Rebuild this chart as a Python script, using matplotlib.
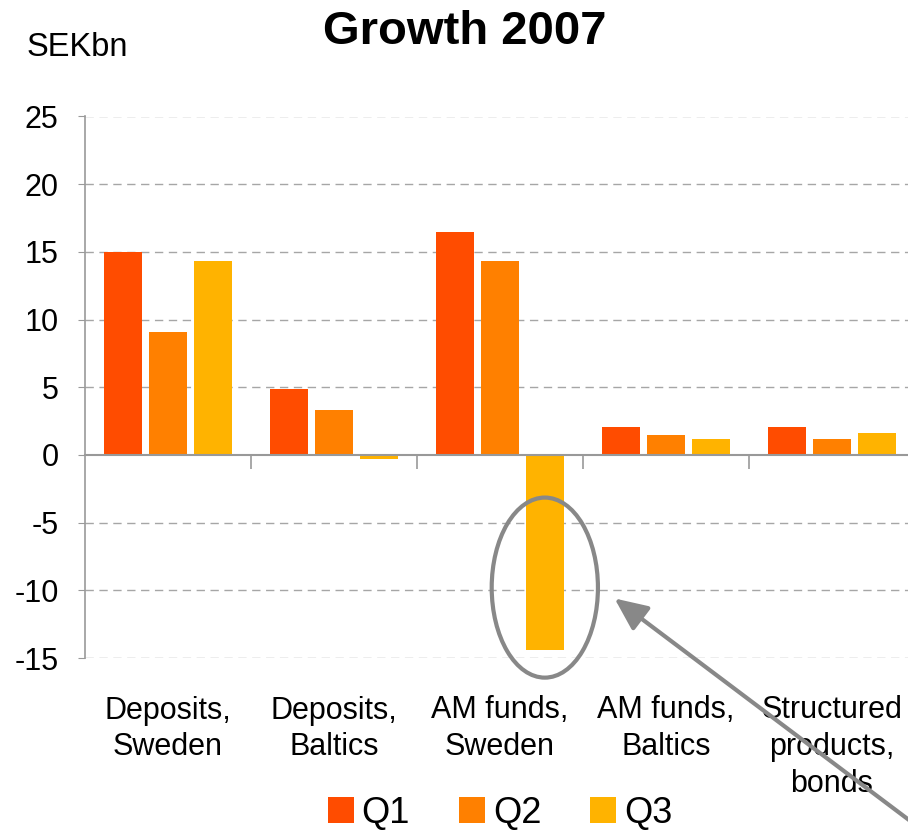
import matplotlib
matplotlib.use("Agg")
import matplotlib.pyplot as plt
from matplotlib.patches import Ellipse, Patch
import numpy as np

plt.rcParams['font.family'] = ['Liberation Sans', 'DejaVu Sans']

categories = ["Deposits,\nSweden", "Deposits,\nBaltics", "AM funds,\nSweden",
              "AM funds,\nBaltics", "Structured\nproducts,\nbonds"]
series = ["Q1", "Q2", "Q3"]
q1 = [15.0, 4.9, 16.5, 2.1, 2.1]
q2 = [9.1, 3.3, 14.3, 1.5, 1.2]
q3 = [14.3, -0.3, -14.4, 1.2, 1.6]
yticks = [25, 20, 15, 10, 5, 0, -5, -10, -15]
colors = ["#FF4C00", "#FF8000", "#FFB300"]

W, H = 908, 831
fig = plt.figure(figsize=(W / 100, H / 100), dpi=100)
ax = fig.add_axes([85 / W, (H - 658) / H, 830 / W, (658 - 116.5) / H])

x = np.arange(len(categories))
pitch = 0.27
width = 0.226
for k, (vals, c) in enumerate(zip([q1, q2, q3], colors)):
    ax.bar(x + (k - 1) * pitch, vals, width=width, color=c, zorder=3)

ax.set_xlim(-0.5, len(categories) - 0.5)
ax.set_ylim(-15, 25)

# gridlines
for v in yticks:
    if v != 0:
        ax.axhline(v, color="#A6A6A6", lw=1.0, ls=(0, (6, 4)), zorder=1)

for s in ["top", "right"]:
    ax.spines[s].set_visible(False)
ax.spines["left"].set_color("#999999")
ax.spines["left"].set_linewidth(1.2)
ax.spines["bottom"].set_position(("data", 0))
ax.spines["bottom"].set_color("#999999")
ax.spines["bottom"].set_linewidth(1.5)
ax.spines["bottom"].set_zorder(4)

ax.set_yticks(yticks)
ax.set_yticklabels([str(v) for v in yticks], fontsize=22)
ax.tick_params(axis="y", length=5, color="#999999", pad=14)
ax.set_xticks(np.arange(len(categories) - 1) + 0.5)
ax.set_xticklabels([])
ax.tick_params(axis="x", length=10, width=1.2, color="#999999", direction="out")

for i, lab in enumerate(categories):
    ax.annotate(lab, xy=(i, -15), xytext=(0, -27), textcoords="offset points",
                ha="center", va="top", fontsize=22, linespacing=1.3,
                multialignment="center", annotation_clip=False)

# highlight of the negative Q3 fund flow
ell = Ellipse((2 + pitch, -9.8), 0.64, 13.3, fill=False, ec="#888888", lw=3,
              clip_on=False, zorder=5)
ax.add_patch(ell)
ax.annotate("", xy=(2.69, -10.6), xytext=(4.5, -27.3),
            arrowprops=dict(arrowstyle="-|>,head_length=1.0,head_width=0.45",
                            color="#888888", lw=3, mutation_scale=20,
                            shrinkA=0, shrinkB=0),
            annotation_clip=False, zorder=6)

fig.text(465 / W, 1 - 32 / H, "Growth 2007", fontsize=34, fontweight="bold",
         ha="center", va="center")
fig.text(27 / W, 1 - 47 / H, "SEKbn", fontsize=23.5, ha="left", va="center")

handles = [Patch(facecolor=c, edgecolor="none") for c in colors]
fig.legend(handles, series, loc="center", bbox_to_anchor=(500 / W, 1 - 813 / H),
           ncol=3, frameon=False, fontsize=26, handlelength=0.72, handleheight=0.72,
           handletextpad=0.22, columnspacing=1.35, borderpad=0)

fig.savefig("out.png", dpi=100)
